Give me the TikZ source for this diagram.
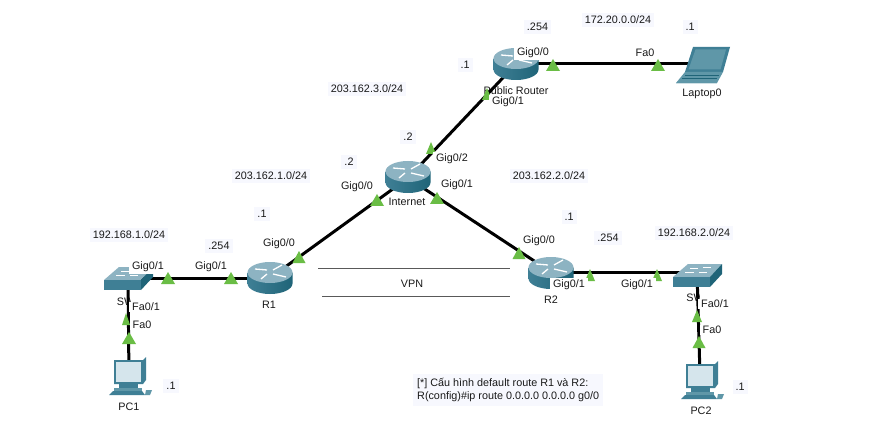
\documentclass[tikz,border=0pt]{standalone}
\usepackage{fontspec}
\setmainfont{Liberation Sans}
\definecolor{boxbg}{HTML}{F7F8FE}
\definecolor{tri}{HTML}{6ABD45}
\definecolor{teal1}{HTML}{5F97A8}
\definecolor{teal2}{HTML}{3F7F95}
\definecolor{teal3}{HTML}{1F6478}
\definecolor{rtop}{HTML}{8DB3C2}
\definecolor{scr}{HTML}{D5E5EC}
\tikzset{
  dev/.style={inner sep=0pt,minimum size=1pt},
  link/.style={line width=3pt,black},
  vpnline/.style={line width=1pt,black!65},
  net/.style={fill=boxbg,inner sep=3pt,font=\fontsize{10.8}{13}\selectfont,text=black!90},
  ifl/.style={fill=white,inner xsep=3pt,inner ysep=1.5pt,font=\fontsize{10.8}{13}\selectfont,text=black!90},
  devl/.style={inner sep=0pt,font=\fontsize{10.8}{13}\selectfont,text=black!90},
  router/.pic={
    \shade[left color=teal2,middle color=white,right color=teal3] (-22.5,-5.5) -- (-22.5,5.5) arc[start angle=180,end angle=0,x radius=22.5,y radius=10.5] -- (22.5,-5.5) -- cycle;
    \fill[rtop] (0,-5.5) ellipse[x radius=22.5,y radius=10.5];
    \draw[white,line width=1.3pt] (-15,-9) -- (-3,-8) (3,-4) -- (16,-1) (3,-8) -- (12,-13) (-3,-4) -- (-9,1);
  },
  switch/.pic={
    \fill[rtop] (-24,2) -- (-9,-11) -- (25,-11) -- (13,2) -- cycle;
    \fill[teal2] (-24,2) rectangle (13,12);
    \fill[teal3] (13,2) -- (25,-11) -- (25,-1) -- (13,12) -- cycle;
    \draw[white,line width=.7pt] (-7,-7) -- (1,-7) (6,-8) -- (14,-8) (-12,-3) -- (-3,-3) (2,-3) -- (10,-3);
  },
  pcicon/.pic={
    \fill[teal2] (-15,-19) -- (14,-19) -- (17,-22) -- (17,1) -- (14,5) -- (-15,5) -- cycle;
    \fill[scr] (-13,-17) rectangle (12,3);
    \fill[teal2] (-10,5) rectangle (9,9);
    \fill[teal1] (-15,9) rectangle (13,12);
    \fill[teal2] (-20,16) -- (-16,12) -- (13,12) -- (16,16) -- cycle;
    \fill[teal1] (17,11) -- (23,11) -- (21,16) -- (16,16) -- cycle;
  },
  laptopicon/.pic={
    \fill[teal2] (-10,-18) -- (27,-18) -- (20,7) -- (-18,7) -- cycle;
    \fill[teal1] (-7.5,-15.5) -- (23,-15.5) -- (17.5,4.5) -- (-14.5,4.5) -- cycle;
    \fill[teal1] (-27,18) -- (-18,7) -- (20,7) -- (14,18) -- cycle;
    \draw[teal3,line width=.6pt] (-18,10) -- (16,10) (-21,13) -- (14,13);
    \draw[white!70!teal1,line width=.6pt] (-27,18) -- (14,18);
  },
}
\newcommand{\tup}[3]{\fill[tri] (#1-#3,#2+6) -- (#1,#2-6) -- (#1+#3,#2+6) -- cycle;}
\begin{document}
\begin{tikzpicture}[x=1pt,y=-1pt]
\useasboundingbox (0,0) rectangle (879,425);
\fill[white] (0,0) rectangle (879,425);
% device anchors
\node[dev] (PR) at (516,64) {};
\node[dev] (LP) at (702,64) {};
\node[dev] (INT) at (408,178) {};
\node[dev] (R1) at (270,278) {};
\node[dev] (R2) at (551,272) {};
\node[dev] (SW1) at (128,278) {};
\node[dev] (SW2) at (697,272) {};
\node[dev] (PC1) at (129,378) {};
\node[dev] (PC2) at (700,375) {};
% device labels hidden partly by other things
\begin{scope}
\clip (470,87) rectangle (560,100);
\node[devl] (PRl) at (516,91) {Public Router};
\end{scope}
\begin{scope}
\clip (110,294) rectangle (130,312);
\node[devl] (SW1l) at (128.5,302) {SW1};
\end{scope}
\begin{scope}
\clip (680,290) rectangle (699,308);
\node[devl] (SW2l) at (698,298) {SW2};
\end{scope}
\node[devl] (LPl) at (702,94) {Laptop0};
\node[devl] (INTl) at (407,202) {Internet};
\node[devl] (R1l) at (269,305) {R1};
\node[devl] (R2l) at (551,300) {R2};
\node[devl] (PC1l) at (129,407) {PC1};
\node[devl] (PC2l) at (701,411) {PC2};
% links
\draw[link] (PR) -- (LP);
\draw[link] (PR) -- (INT);
\draw[link] (INT) -- (R1);
\draw[link] (INT) -- (R2);
\draw[link] (R1) -- (SW1);
\draw[link] (R2) -- (SW2);
\draw[link] (SW1) -- (PC1);
\draw[link] (SW2) -- (PC2);
% status triangles
\tup{553}{65}{7}
\tup{658}{65}{7}
\tup{487}{94}{5}
\tup{431}{148}{5}
\tup{377}{200}{7}
\tup{437}{198}{7}
\tup{519}{253}{6.5}
\tup{299}{257}{6.5}
\tup{168}{278}{7}
\tup{231}{278}{7}
\tup{126}{319}{4}
\tup{129}{338}{7}
\tup{590}{275}{5}
\tup{657}{275}{5}
\tup{697}{316}{5}
\tup{699}{342}{6.5}
% devices
\pic at (516,64) {router};
\pic at (408,177) {router};
\pic at (270,278) {router};
\pic at (551,273) {router};
\pic at (128,278) {switch};
\pic at (697,275) {switch};
\pic at (129,379) {pcicon};
\pic at (701,383) {pcicon};
\pic at (703,65) {laptopicon};
% VPN
\coordinate (v1a) at (318,268); \coordinate (v1b) at (510,268);
\coordinate (v2a) at (322,296); \coordinate (v2b) at (510,296);
\draw[vpnline] (v1a) -- (v1b);
\draw[vpnline] (v2a) -- (v2b);
\node[devl] (vpn) at (412,284) {VPN};
% interface labels
\node[ifl] (i1) at (533,53) {Gig0/0};
\node[ifl] (i2) at (645,53) {Fa0};
\node[ifl] (i3) at (508,102) {Gig0/1};
\node[ifl] (i4) at (452,159) {Gig0/2};
\node[ifl] (i5) at (457,185) {Gig0/1};
\node[ifl] (i6) at (357,187) {Gig0/0};
\node[ifl] (i7) at (279,244) {Gig0/0};
\node[ifl] (i8) at (539,241) {Gig0/0};
\node[ifl] (i9) at (148,267) {Gig0/1};
\node[ifl] (i10) at (211,267) {Gig0/1};
\node[ifl] (i11) at (146,307) {Fa0/1};
\node[ifl] (i12) at (142,325) {Fa0};
\node[ifl] (i13) at (569,285) {Gig0/1};
\node[ifl] (i14) at (637,285) {Gig0/1};
\node[ifl] (i15) at (715,304) {Fa0/1};
\node[ifl] (i16) at (712,330) {Fa0};
% address labels
\node[net] (n1) at (537.5,27) {.254};
\node[net] (n2) at (618,20) {172.20.0.0/24};
\node[net] (n3) at (690,27) {.1};
\node[net] (n4) at (465,65) {.1};
\node[net] (n5) at (367,89) {203.162.3.0/24};
\node[net] (n6) at (408,137) {.2};
\node[net] (n7) at (349,162) {.2};
\node[net] (n8) at (271,176) {203.162.1.0/24};
\node[net] (n9) at (549,176) {203.162.2.0/24};
\node[net] (n10) at (262,214) {.1};
\node[net] (n11) at (569,217) {.1};
\node[net] (n12) at (219,246) {.254};
\node[net] (n13) at (129,235) {192.168.1.0/24};
\node[net] (n14) at (608,238) {.254};
\node[net] (n15) at (694,233) {192.168.2.0/24};
\node[net] (n16) at (171,386) {.1};
\node[net] (n17) at (740,387) {.1};
\node[net,align=left,anchor=west,inner sep=4pt] (note) at (413,390) {[*] Cấu hình default route R1 và R2:\\R(config)\#ip route 0.0.0.0 0.0.0.0 g0/0};
\end{tikzpicture}
\end{document}
